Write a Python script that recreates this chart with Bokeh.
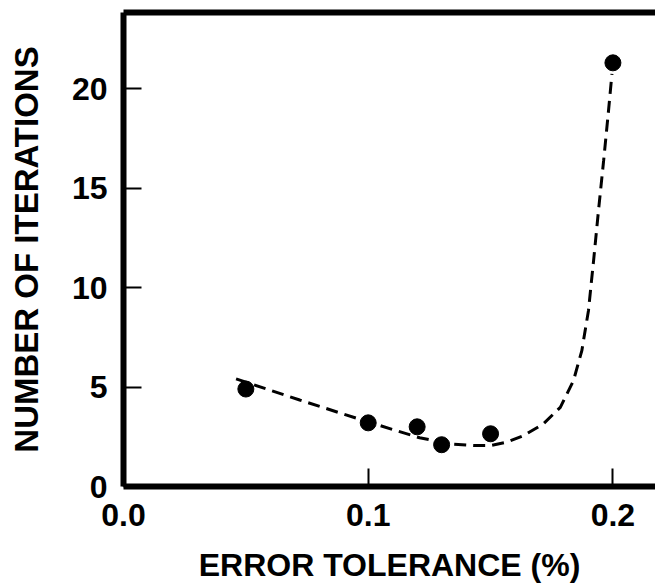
from bokeh.plotting import figure
from bokeh.models import Range1d, FixedTicker, LinearAxis
from bokeh.embed import file_html
from bokeh.resources import INLINE

# measured data points
tol = [0.05, 0.10, 0.12, 0.13, 0.15, 0.20]
iters = [4.9, 3.2, 3.0, 2.1, 2.65, 21.3]

# dashed fitted curve
curve_x = [0.046, 0.072, 0.098, 0.121, 0.1335, 0.143, 0.150, 0.1567, 0.1635,
           0.1716, 0.1785, 0.1839, 0.1873, 0.1900, 0.1921, 0.1941, 0.1962,
           0.1982, 0.1996]
curve_y = [5.41, 4.35, 3.32, 2.45, 2.14, 2.06, 2.06, 2.23, 2.56,
           3.15, 3.98, 5.33, 6.83, 8.84, 11.36, 13.87, 16.38,
           18.89, 20.74]

x_ticks = [0.0, 0.1, 0.2]
x_tick_labels = {0.0: "0.0", 0.1: "0.1", 0.2: "0.2"}
y_ticks = [0, 5, 10, 15, 20]

FONT = "Liberation Sans"

p = figure(width=655, height=586, output_backend="svg", toolbar_location=None,
           x_range=Range1d(0, 0.2174), y_range=Range1d(0, 23.83),
           min_border_left=123, min_border_right=0, min_border_top=12,
           min_border_bottom=100)
p.grid.visible = False
p.outline_line_color = None
p.background_fill_color = "white"
p.border_fill_color = "white"

p.line(curve_x, curve_y, line_color="black", line_width=3, line_dash="12 7")
p.scatter(tol, iters, size=16, fill_color="black", line_color="black")

for ax in (p.xaxis[0], p.yaxis[0]):
    ax.axis_line_width = 6
    ax.axis_line_color = "black"
    ax.major_tick_in = 18
    ax.major_tick_out = 0
    ax.major_tick_line_width = 2
    ax.major_tick_line_color = "black"
    ax.minor_tick_line_color = None
    ax.major_label_text_font = FONT
    ax.major_label_text_font_style = "bold"
    ax.major_label_text_font_size = "32px"
    ax.major_label_text_color = "black"
    ax.axis_label_text_font = FONT
    ax.axis_label_text_font_style = "bold"
    ax.axis_label_text_color = "black"

p.xaxis[0].ticker = FixedTicker(ticks=x_ticks)
p.xaxis[0].major_label_overrides = x_tick_labels
p.xaxis[0].axis_label = "ERROR TOLERANCE (%)"
p.xaxis[0].axis_label_text_font_size = "32px"
p.xaxis[0].major_label_standoff = 17
p.xaxis[0].axis_label_standoff = 18

p.yaxis[0].ticker = FixedTicker(ticks=y_ticks)
p.yaxis[0].axis_label = "NUMBER OF ITERATIONS"
p.yaxis[0].axis_label_text_font_size = "33px"
p.yaxis[0].major_label_standoff = 16
p.yaxis[0].axis_label_standoff = 24

top = LinearAxis(ticker=FixedTicker(ticks=[]), axis_line_width=6,
                 axis_line_color="black", major_tick_out=0, major_tick_in=0,
                 minor_tick_out=0, minor_tick_in=0, major_label_standoff=0,
                 major_label_text_font_size="0px")
p.add_layout(top, "above")

open("out.html", "w").write(file_html(p, INLINE))
